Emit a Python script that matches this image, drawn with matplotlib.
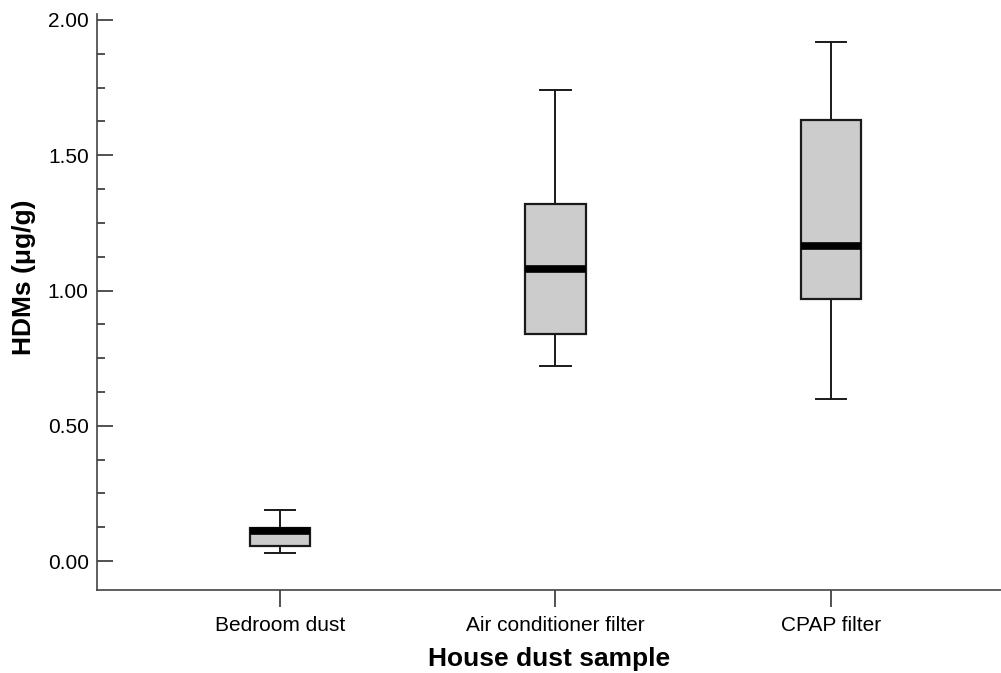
import matplotlib
matplotlib.use('Agg')
import matplotlib.pyplot as plt
from matplotlib.ticker import MultipleLocator, FormatStrFormatter

# datos (ug/g)
categorias = ['Bedroom dust', 'Air conditioner filter', 'CPAP filter']
bigote_inf = [0.03, 0.72, 0.60]
q1 = [0.056, 0.84, 0.97]
mediana = [0.11, 1.08, 1.165]
q3 = [0.122, 1.32, 1.63]
bigote_sup = [0.19, 1.74, 1.92]

plt.rcParams['font.family'] = ['Liberation Sans', 'DejaVu Sans']

fig = plt.figure(figsize=(10.01, 6.73), dpi=100)
ax = fig.add_axes([97/1001, 1 - 590/673, 1 - 97/1001, (590 - 14)/673])

stats = []
for i in range(len(categorias)):
    stats.append({'label': categorias[i], 'whislo': bigote_inf[i], 'q1': q1[i],
                  'med': mediana[i], 'q3': q3[i], 'whishi': bigote_sup[i], 'fliers': []})

ax.bxp(stats, positions=[1, 2, 3], widths=0.22, patch_artist=True, showfliers=False,
       capwidths=0.11,
       boxprops=dict(facecolor='#cccccc', edgecolor='#1a1a1a', linewidth=1.6),
       medianprops=dict(color='black', linewidth=5.5, solid_capstyle='butt'),
       whiskerprops=dict(color='#1a1a1a', linewidth=1.4),
       capprops=dict(color='#1a1a1a', linewidth=1.4))

ax.set_xlim(0.336, 3.617)
ax.set_ylim(-0.107, 2.022)

ax.yaxis.set_major_locator(MultipleLocator(0.5))
ax.yaxis.set_minor_locator(MultipleLocator(0.125))
ax.yaxis.set_major_formatter(FormatStrFormatter('%.2f'))

for s in ['top', 'right']:
    ax.spines[s].set_visible(False)
for s in ['left', 'bottom']:
    ax.spines[s].set_color('#444444')
    ax.spines[s].set_linewidth(1.2)

ax.tick_params(axis='y', which='major', direction='in', length=11.5, width=1.2,
               color='#333333', labelsize=15, pad=6)
ax.tick_params(axis='y', which='minor', direction='in', length=5.8, width=1.2, color='#333333')
ax.tick_params(axis='x', which='major', direction='out', length=12, width=1.2,
               color='#333333', labelsize=15, pad=7)

ax.set_xlabel('House dust sample', fontsize=19, fontweight='bold', labelpad=8.5)
ax.set_ylabel('HDMs (μg/g)', fontsize=19, fontweight='bold')
ax.yaxis.set_label_coords(-0.068, 0.543)

fig.savefig('out.png', dpi=100)
